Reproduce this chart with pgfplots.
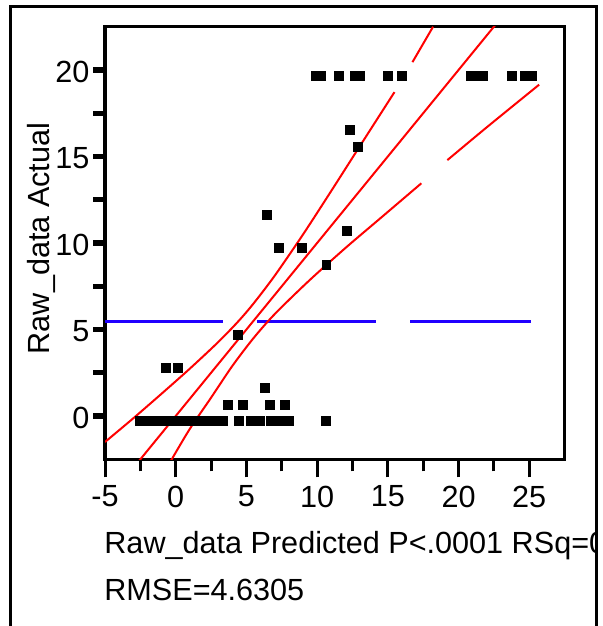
\documentclass[border=0pt]{standalone}
\usepackage{pgfplots}
\pgfplotsset{compat=1.18}
\usepackage{pgfplotstable}
\usepackage{fontspec}
\setmainfont{Liberation Sans}
\definecolor{jmpblue}{RGB}{32,0,255}
\definecolor{jmpred}{RGB}{255,0,0}

% leverage plot points: predicted, actual
\pgfplotstableread{
x y
-2.56 -0.3
-2.06 -0.3
-1.56 -0.3
-1.06 -0.3
-0.56 -0.3
-0.06 -0.3
0.44 -0.3
0.94 -0.3
1.44 -0.3
1.94 -0.3
2.44 -0.3
2.89 -0.3
3.33 -0.3
4.46 -0.3
5.31 -0.3
5.94 -0.3
6.72 -0.3
7.35 -0.3
7.99 -0.3
10.60 -0.3
3.68 0.64
4.74 0.64
6.65 0.64
7.71 0.64
6.30 1.62
-0.71 2.79
0.16 2.79
4.39 4.68
10.66 8.73
7.28 9.71
8.91 9.71
12.12 10.69
6.44 11.61
12.86 15.55
12.29 16.55
9.89 19.64
10.24 19.64
11.52 19.64
12.68 19.64
13.03 19.64
14.98 19.64
16.00 19.64
20.87 19.64
21.29 19.64
21.72 19.64
23.80 19.64
24.68 19.64
25.21 19.64
}\pts

\begin{document}
\begin{tikzpicture}
\begin{axis}[
    scale only axis,
    width=229.8pt,
    height=216.3pt,
    xmin=-5, xmax=27.5,
    ymin=-2.5, ymax=22.5,
    xtick={-5,0,5,10,15,20,25},
    ytick={0,5,10,15,20},
    minor x tick num=1,
    minor y tick num=1,
    tick align=outside,
    xtick pos=bottom,
    ytick pos=left,
    axis line style={line width=1.6pt},
    xtick style={black, line width=1.5pt, /pgfplots/major tick length=9pt, /pgfplots/minor tick length=6pt},
    ytick style={black, line width=2.6pt, /pgfplots/major tick length=6pt, /pgfplots/minor tick length=6pt},
    ticklabel style={font=\fontsize{15.3}{18}\selectfont},
    xticklabel style={yshift=-5.5pt},
    yticklabel style={yshift=-1pt},
    /pgf/number format/assume math mode=true,
]
% mean line
\addplot[jmpblue, line width=1.2pt] coordinates {(-5,5.47) (3.33,5.47)};
\addplot[jmpblue, line width=1.2pt] coordinates {(5.73,5.47) (14.18,5.47)};
\addplot[jmpblue, line width=1.2pt] coordinates {(16.6,5.47) (25.12,5.47)};
% points
\addplot[only marks, mark=square*, mark size=2.2pt, black] table {\pts};
% fit line
\addplot[jmpred, line width=1pt] coordinates {(-2.6,-2.6) (22.6,22.6)};
% upper confidence curve
\addplot[jmpred, line width=1pt, smooth] coordinates {
    (-5,-1.5) (-3,-0.13) (-1,1.29) (1,2.74) (3,4.27) (4.4,5.45) (5.5,6.5)
    (7,8.11) (9,10.49) (11,13.01) (13,15.57) (15.47,18.72)
};
\addplot[jmpred, line width=1pt] coordinates {(16.74,20.45) (18.2,22.5)};
% lower confidence curve
\addplot[jmpred, line width=1pt, smooth] coordinates {
    (-0.35,-2.6) (1,-0.74) (2.5,1.06) (4,2.89) (5.5,4.5) (7,5.89)
    (9.4,7.8) (12,9.71) (14.5,11.45) (17.37,13.45)
};
\addplot[jmpred, line width=1pt, smooth] coordinates {
    (19.21,14.79) (22,16.69) (25.7,19.15)
};
\end{axis}
% frame and texts
\draw[line width=1.5pt] (-47.1pt,-95pt) -- (-47.1pt,226.5pt) -- (245.5pt,226.5pt) -- (245.5pt,-95pt);
\node[rotate=90, anchor=base, inner sep=0pt, font=\fontsize{15.3}{18}\selectfont]
    at (-27.5pt,110.4pt) {Raw\_data Actual};
\begin{scope}
    \clip (-40pt,-60pt) rectangle (245pt,-30pt);
    \node[anchor=base west, inner sep=0pt, font=\fontsize{15.3}{18}\selectfont]
        at (-0.5pt,-47pt) {Raw\_data Predicted P<.0001 RSq=0};
\end{scope}
\node[anchor=base west, inner sep=0pt, font=\fontsize{15.3}{18}\selectfont]
    at (-0.5pt,-70.35pt) {RMSE=4.6305};
\pgfresetboundingbox
\useasboundingbox (-52.5pt,-83.35pt) rectangle (249pt,229.65pt);
\end{tikzpicture}
\end{document}
